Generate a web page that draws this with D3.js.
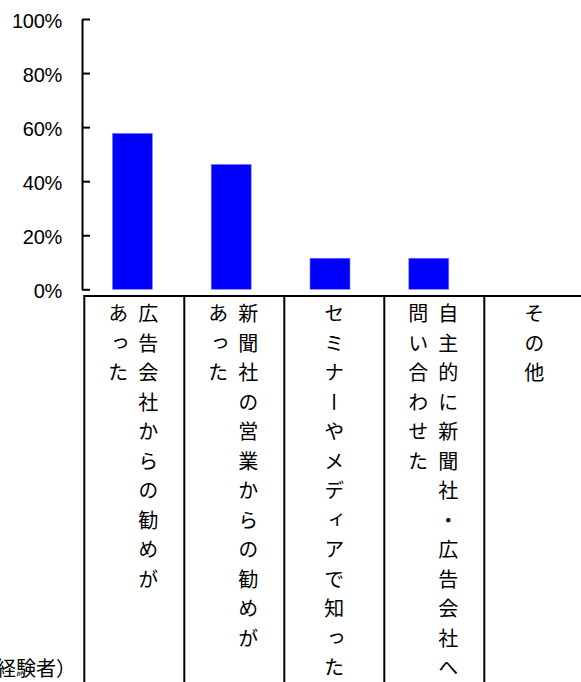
<!DOCTYPE html>
<html>
<head>
<meta charset="utf-8">
<script src="https://cdn.jsdelivr.net/npm/d3@7"></script>
<style>
  html, body { margin: 0; padding: 0; background: #fff; }
  svg { display: block; }
</style>
</head>
<body>
<script>
// ---- data ----
const categories = [
  "広告会社からの勧めがあった",
  "新聞社の営業からの勧めがあった",
  "セミナーやメディアで知った",
  "自主的に新聞社・広告会社へ問い合わせた",
  "その他"
];
// label columns, right column first (vertical text)
const labelColumns = [
  ["広告会社からの勧めが", "あった"],
  ["新聞社の営業からの勧めが", "あった"],
  ["セミナーやメディアで知った"],
  ["自主的に新聞社・広告会社へ", "問い合わせた"],
  ["その他"]
];
const values = [57.7, 46.2, 11.5, 11.5, 0];
const yTicks = [0, 20, 40, 60, 80, 100];
const yTickLabels = ["0%", "20%", "40%", "60%", "80%", "100%"];
const noteText = "（経験者）";

// ---- layout ----
const W = 581, H = 682;
const svg = d3.select("body").append("svg").attr("width", W).attr("height", H);

const y = d3.scaleLinear().domain([0, 100]).range([289.3, 19]);
const x = d3.scaleBand().domain(categories).range([83, 577])
  .paddingInner(0.595).paddingOuter(0.2975);
const xt = d3.scaleBand().domain(categories).range([84.3, 584.3]);

// bars
svg.append("g").selectAll("rect").data(values).join("rect")
  .attr("x", (d, i) => x(categories[i]))
  .attr("width", x.bandwidth())
  .attr("y", d => y(d))
  .attr("height", d => y(0) - y(d))
  .attr("fill", "#0000ff")
  .attr("stroke", "#8080ff")
  .attr("stroke-width", 0.6);

// y axis
const yAxis = d3.axisLeft(y)
  .tickValues(yTicks)
  .tickFormat((d, i) => yTickLabels[i])
  .tickSizeInner(-8)
  .tickSizeOuter(0)
  .tickPadding(20);
const ag = svg.append("g").attr("transform", "translate(82,0)").call(yAxis);
ag.select(".domain").attr("stroke", "#000").attr("stroke-width", 2);
ag.selectAll(".tick line").attr("stroke", "#000").attr("stroke-width", 2);
ag.selectAll(".tick text")
  .attr("font-family", "'Liberation Sans', Arial, sans-serif")
  .attr("font-size", 20)
  .attr("letter-spacing", "-0.3px")
  .attr("fill", "#000")
  .attr("dy", "0.4em");

// table (category grid)
const tg = svg.append("g").attr("stroke", "#000").attr("stroke-width", 2);
tg.append("line")
  .attr("x1", xt(categories[0]) - 1).attr("x2", W)
  .attr("y1", 296).attr("y2", 296);
const bounds = categories.map(c => xt(c)).concat([xt(categories[categories.length - 1]) + xt.bandwidth()]);
tg.selectAll("line.v").data(bounds).join("line")
  .attr("class", "v")
  .attr("x1", d => d).attr("x2", d => d)
  .attr("y1", 296).attr("y2", H);

// vertical labels
const fs = 20, rowStep = 29.5;
const lg = svg.append("g");
categories.forEach((c, i) => {
  const cols = labelColumns[i];
  const cx = xt(c) + xt.bandwidth() / 2 + (cols.length > 1 ? -1 : 0);
  const offs = cols.length > 1 ? [15, -15] : [0];
  cols.forEach((txt, k) => {
    const t = lg.append("text")
      .attr("x", cx + offs[k])
      .attr("y", 313.5 - fs / 2)
      .attr("font-family", "'Noto Sans CJK JP', sans-serif")
      .attr("font-size", fs)
      .attr("fill", "#000")
      .style("writing-mode", "vertical-rl");
    const chars = Array.from(txt);
    t.append("tspan")
      .style("letter-spacing", (rowStep - fs) + "px")
      .text(chars.slice(0, -1).join(""));
    t.append("tspan")
      .style("letter-spacing", "0px")
      .text(chars[chars.length - 1]);
  });
});

// note text (partly off canvas, as in the reference)
svg.append("text")
  .attr("x", 76).attr("y", 676)
  .attr("text-anchor", "end")
  .attr("font-family", "'Noto Sans CJK JP', sans-serif")
  .attr("font-size", 20)
  .attr("fill", "#000")
  .text(noteText);
</script>
</body>
</html>
